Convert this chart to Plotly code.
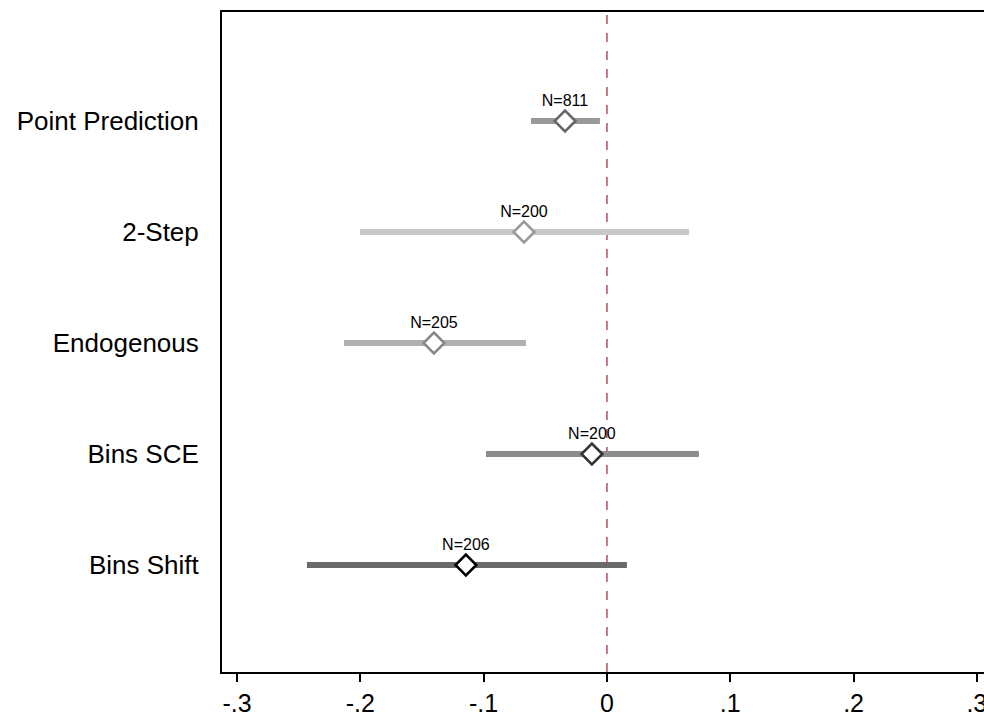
import plotly.graph_objects as go

categories = ["Point Prediction", "2-Step", "Endogenous", "Bins SCE", "Bins Shift"]
estimates = [-0.034, -0.0673, -0.1403, -0.0122, -0.1144]
ci_low = [-0.0616, -0.2003, -0.2133, -0.0981, -0.2433]
ci_high = [-0.0057, 0.0665, -0.0657, 0.0746, 0.0162]
n_labels = ["N=811", "N=200", "N=205", "N=200", "N=206"]
positions = [5, 4, 3, 2, 1]
bar_colors = ["#999999", "#c8c8c8", "#b0b0b0", "#8c8c8c", "#6a6a6a"]
edge_colors = ["#666666", "#999999", "#888888", "#333333", "#000000"]
xtick_vals = [-0.3, -0.2, -0.1, 0, 0.1, 0.2, 0.3]
xtick_text = ["-.3", "-.2", "-.1", "0", ".1", ".2", ".3"]

fig = go.Figure()

fig.add_shape(type="line", x0=0, x1=0, y0=0, y1=1, yref="paper", xref="x",
              line=dict(color="#b0505a", width=1.5, dash="dash"), layer="below")

for i in range(len(categories)):
    fig.add_trace(go.Scatter(
        x=[ci_low[i], ci_high[i]], y=[positions[i], positions[i]],
        mode="lines", line=dict(color=bar_colors[i], width=6),
        showlegend=False, hoverinfo="skip"))
    fig.add_trace(go.Scatter(
        x=[estimates[i]], y=[positions[i]], mode="markers+text",
        marker=dict(symbol="diamond", size=16, color="white",
                    line=dict(color=edge_colors[i], width=2.5)),
        text=[n_labels[i]], textposition="top center",
        textfont=dict(family="Liberation Sans, Arial", size=16, color="black"),
        showlegend=False))

fig.update_layout(
    width=984, height=717,
    margin=dict(l=222, r=0, t=12, b=45),
    plot_bgcolor="white", paper_bgcolor="white",
    font=dict(family="Liberation Sans, Arial", color="black"),
    xaxis=dict(range=[-0.3122, 0.3058], tickvals=xtick_vals, ticktext=xtick_text,
               showgrid=False, zeroline=False, showline=True, linecolor="black",
               linewidth=2, mirror=True, ticks="outside", ticklen=8,
               tickcolor="black", tickwidth=1.5, automargin=False,
               ticklabeloverflow="allow",
               tickfont=dict(size=25, family="Liberation Sans, Arial")),
    yaxis=dict(range=[0.036, 5.982], tickvals=positions, ticktext=categories,
               showgrid=False, zeroline=False, showline=True, linecolor="black",
               linewidth=2, ticks="", ticklabelstandoff=16, automargin=False,
               tickfont=dict(size=26, family="Liberation Sans, Arial")),
)

fig.write_html("out.html", config={"displayModeBar": False},
               post_script="document.body.style.margin='0';document.body.style.overflow='hidden';")
